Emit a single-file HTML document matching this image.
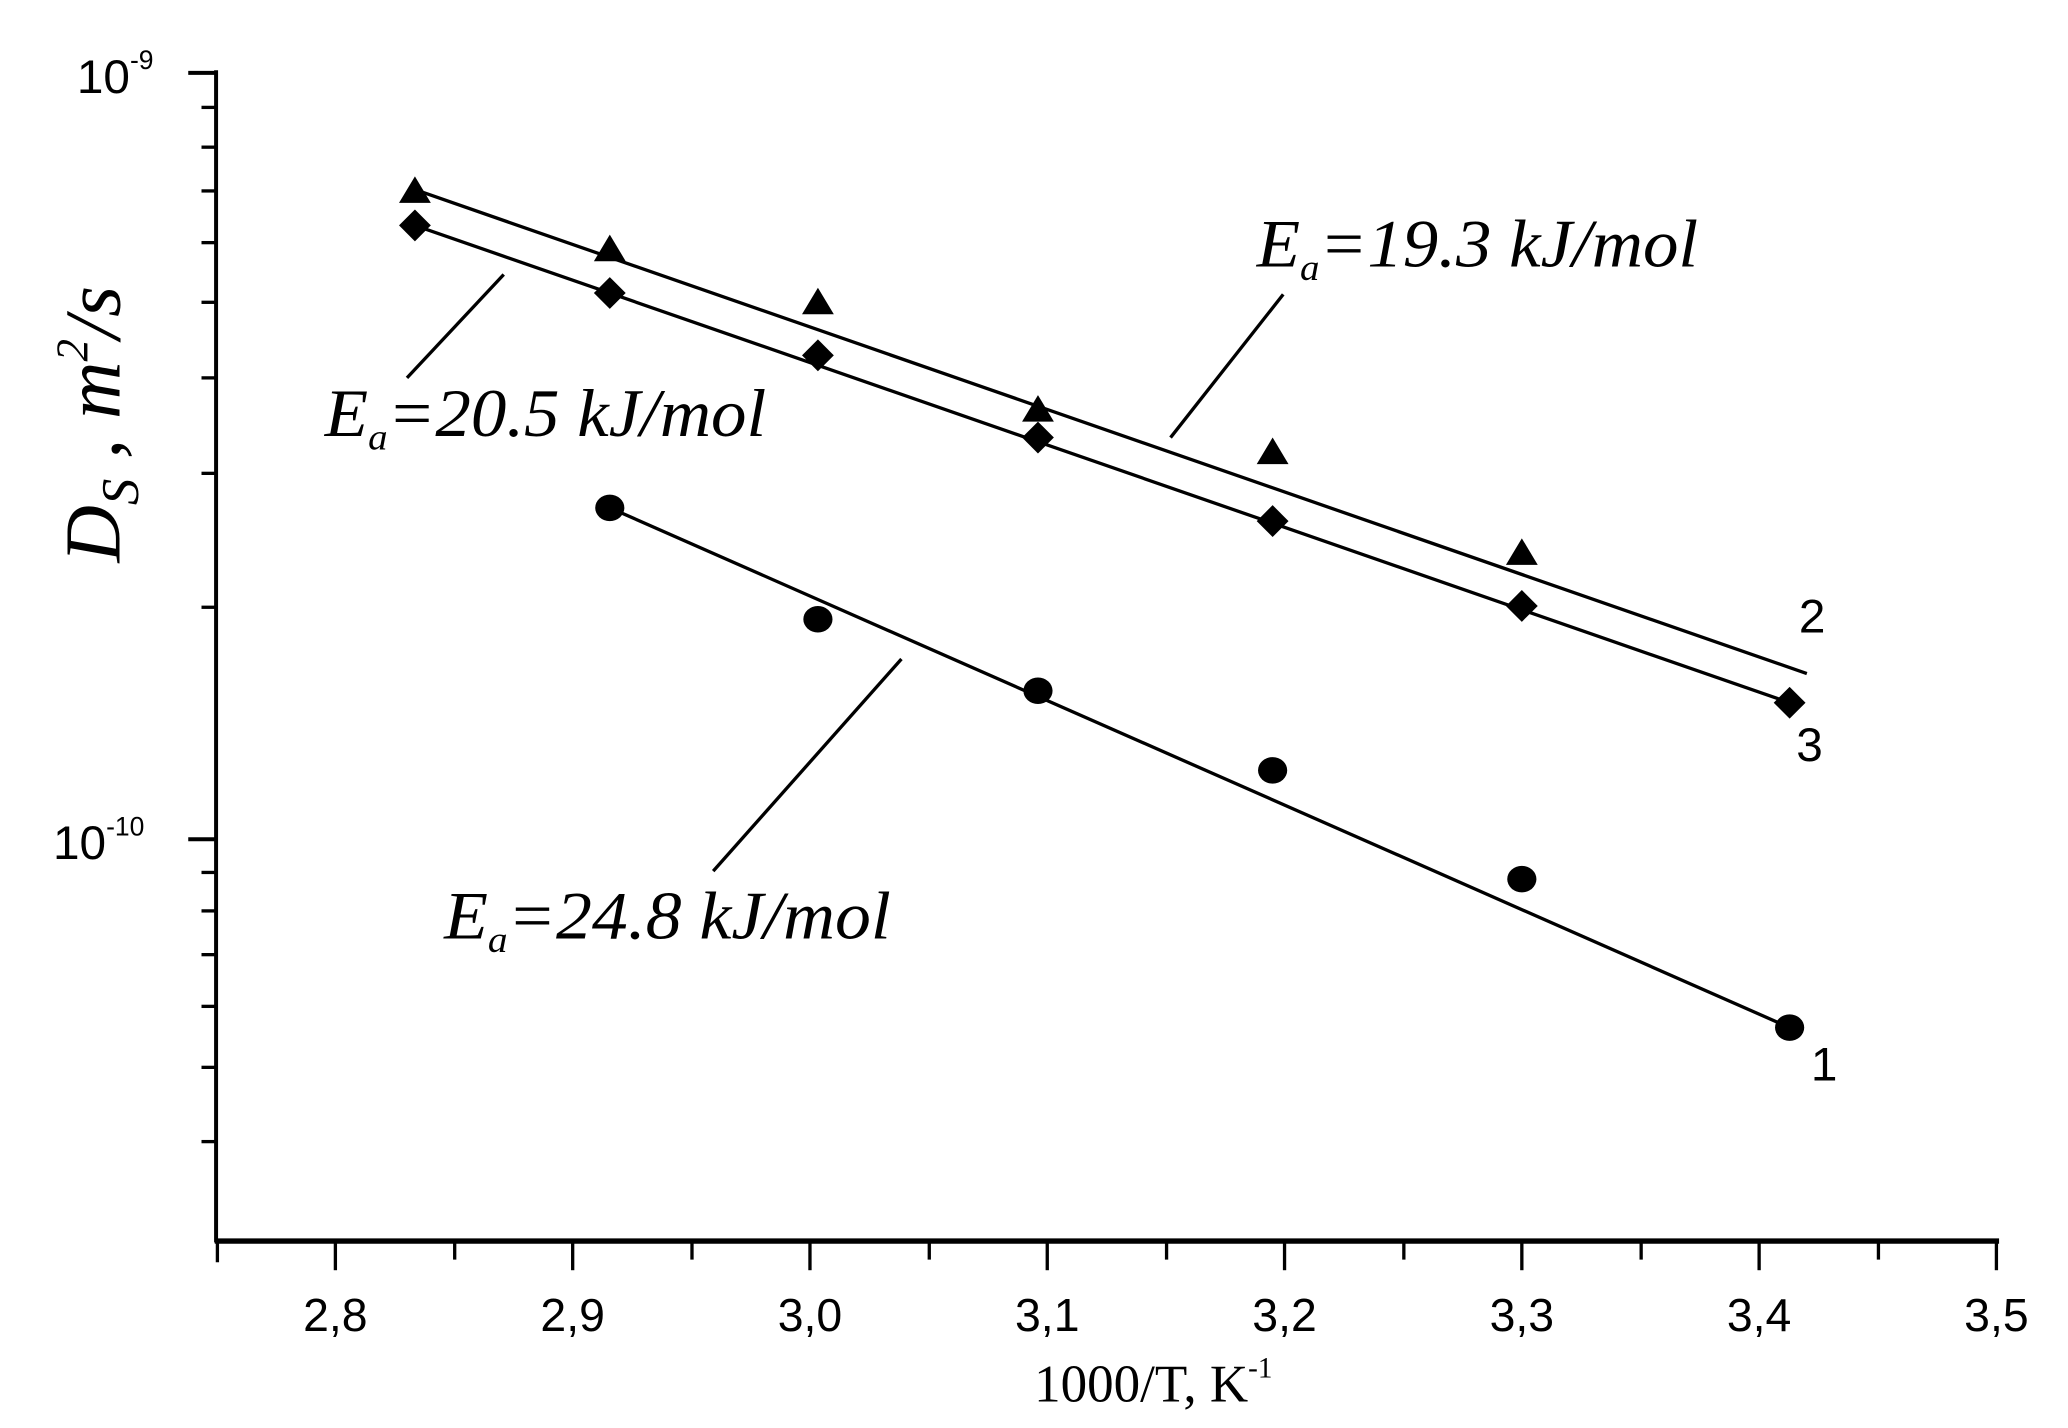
<!DOCTYPE html>
<html><head><meta charset="utf-8"><style>
html,body{margin:0;padding:0;background:#fff;width:2068px;height:1428px;overflow:hidden}
svg{display:block}
</style></head><body>
<svg width="2068" height="1428" viewBox="0 0 1560 1077" preserveAspectRatio="none" xmlns="http://www.w3.org/2000/svg">
<rect width="1560" height="1077" fill="#fff"/>
<g stroke="#000" fill="none">
<line x1="163" y1="53" x2="163" y2="937" stroke-width="3"/>
<line x1="162" y1="936" x2="1508" y2="936" stroke-width="4"/>
<line x1="142" y1="55" x2="163" y2="55" stroke-width="3"/>
<line x1="142" y1="633" x2="163" y2="633" stroke-width="3"/>
<g stroke-width="2.5">
<line x1="152" y1="81" x2="163" y2="81"/><line x1="152" y1="111" x2="163" y2="111"/>
<line x1="152" y1="144" x2="163" y2="144"/><line x1="152" y1="183" x2="163" y2="183"/>
<line x1="152" y1="228" x2="163" y2="228"/><line x1="152" y1="285" x2="163" y2="285"/>
<line x1="152" y1="357" x2="163" y2="357"/><line x1="152" y1="458" x2="163" y2="458"/>
<line x1="152" y1="658" x2="163" y2="658"/><line x1="152" y1="687" x2="163" y2="687"/>
<line x1="152" y1="720" x2="163" y2="720"/><line x1="152" y1="759" x2="163" y2="759"/>
<line x1="152" y1="805" x2="163" y2="805"/><line x1="152" y1="861" x2="163" y2="861"/>
</g>
<g stroke-width="2.5">
<line x1="164" y1="936" x2="164" y2="952"/>
<line x1="253" y1="936" x2="253" y2="958"/><line x1="343" y1="936" x2="343" y2="950"/>
<line x1="432" y1="936" x2="432" y2="958"/><line x1="522" y1="936" x2="522" y2="950"/>
<line x1="611" y1="936" x2="611" y2="958"/><line x1="701" y1="936" x2="701" y2="950"/>
<line x1="790" y1="936" x2="790" y2="958"/><line x1="880" y1="936" x2="880" y2="950"/>
<line x1="969" y1="936" x2="969" y2="958"/><line x1="1059" y1="936" x2="1059" y2="950"/>
<line x1="1148" y1="936" x2="1148" y2="958"/><line x1="1238" y1="936" x2="1238" y2="950"/>
<line x1="1327" y1="936" x2="1327" y2="958"/><line x1="1417" y1="936" x2="1417" y2="950"/>
<line x1="1506" y1="936" x2="1506" y2="958"/>
</g>
<g stroke-width="2.5">
<line x1="313" y1="143" x2="1363" y2="508"/>
<line x1="313" y1="170" x2="1350" y2="530"/>
<line x1="460" y1="383" x2="1350" y2="775"/>
<line x1="968" y1="222" x2="883" y2="330"/>
<line x1="380" y1="207" x2="307" y2="285"/>
<line x1="680" y1="497" x2="538" y2="657"/>
</g>
</g>
<g fill="#000">
<polygon points="313,133 301,153 325,153"/><polygon points="460,177 448,197 472,197"/>
<polygon points="617,217 605,237 629,237"/><polygon points="783,298 771,318 795,318"/>
<polygon points="960,330 948,350 972,350"/><polygon points="1148,406 1136,426 1160,426"/>
<polygon points="313,158 325,170 313,182 301,170"/><polygon points="460,209 472,221 460,233 448,221"/>
<polygon points="617,256 629,268 617,280 605,268"/><polygon points="783,318 795,330 783,342 771,330"/>
<polygon points="960,381 972,393 960,405 948,393"/><polygon points="1148,445 1160,457 1148,469 1136,457"/>
<polygon points="1350,518 1362,530 1350,542 1338,530"/>
<ellipse cx="460" cy="383" rx="11" ry="10"/><ellipse cx="617" cy="467" rx="11" ry="10"/>
<ellipse cx="783" cy="521" rx="11" ry="10"/><ellipse cx="960" cy="581" rx="11" ry="10"/>
<ellipse cx="1148" cy="663" rx="11" ry="10"/><ellipse cx="1350" cy="775" rx="11" ry="10"/>
</g>
<g font-family="Liberation Sans, sans-serif" font-size="35" fill="#000" text-anchor="middle">
<text x="253" y="1004">2,8</text><text x="432" y="1004">2,9</text><text x="611" y="1004">3,0</text>
<text x="790" y="1004">3,1</text><text x="969" y="1004">3,2</text><text x="1148" y="1004">3,3</text>
<text x="1327" y="1004">3,4</text><text x="1506" y="1004">3,5</text>
</g>
<g font-family="Liberation Sans, sans-serif" fill="#000">
<text x="58" y="70" font-size="36">10<tspan font-size="20" dy="-18">-9</tspan></text>
<text x="40" y="648" font-size="36">10<tspan font-size="20" dy="-18">-10</tspan></text>
<text x="1357" y="477" font-size="36">2</text>
<text x="1355" y="574" font-size="36">3</text>
<text x="1366" y="815" font-size="36">1</text>
</g>
<text x="870" y="1057" font-family="Liberation Serif, serif" font-size="40" text-anchor="middle">1000/T, K<tspan font-size="22" dy="-18">-1</tspan></text>
<g font-family="Liberation Serif, serif" font-style="italic" font-size="51" fill="#000">
<text x="948" y="201" textLength="333" lengthAdjust="spacingAndGlyphs">E<tspan font-size="28" dy="10">a</tspan><tspan dy="-10">=19.3 kJ/mol</tspan></text>
<text x="245" y="329" textLength="333" lengthAdjust="spacingAndGlyphs">E<tspan font-size="28" dy="10">a</tspan><tspan dy="-10">=20.5 kJ/mol</tspan></text>
<text x="335" y="708" textLength="337" lengthAdjust="spacingAndGlyphs">E<tspan font-size="28" dy="10">a</tspan><tspan dy="-10">=24.8 kJ/mol</tspan></text>
</g>
<text transform="translate(90,320) rotate(-90)" text-anchor="middle" font-family="Liberation Serif, serif" font-style="italic" font-size="60">D<tspan font-size="40" dy="14">S</tspan><tspan dy="-14"> , m</tspan><tspan font-size="34" dy="-24">2</tspan><tspan dy="24">/s</tspan></text>
</svg>
</body></html>
